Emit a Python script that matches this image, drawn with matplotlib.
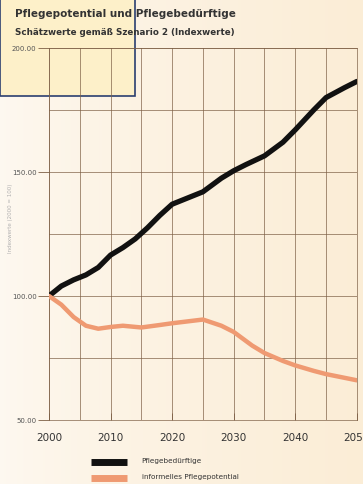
import numpy as np
import matplotlib.pyplot as plt
from matplotlib.patches import Rectangle

# Index values, 2000 = 100
years_need = [2000, 2002, 2004, 2006, 2008, 2010, 2012, 2014, 2016, 2018, 2020,
              2022, 2025, 2028, 2030, 2032, 2035, 2038, 2040, 2043, 2045, 2048, 2050]
pflegebeduerftige = [100, 104, 106.5, 108.5, 111.5, 116.5, 119.5, 123, 127.5, 132.5, 137,
                     139, 142, 147.5, 150.5, 153, 156.5, 162, 167, 175, 180, 184, 186.5]

years_pot = [2000, 2002, 2004, 2006, 2008, 2010, 2012, 2015, 2018, 2020, 2022,
             2025, 2028, 2030, 2033, 2035, 2038, 2040, 2043, 2045, 2048, 2050]
pflegepotential = [100, 96.5, 91.5, 88, 86.8, 87.5, 88, 87.3, 88.3, 89, 89.6,
                   90.5, 88, 85.5, 80, 77, 73.8, 72, 69.8, 68.5, 67, 66]

x_ticks = [2000, 2010, 2020, 2030, 2040, 2050]
y_ticks = [50, 100, 150, 200]
y_labels = ['50.00', '100.00', '150.00', '200.00']

grid_col = '#7d5f45'
text_col = '#333333'

fig = plt.figure(figsize=(3.63, 4.85), dpi=100)

# paper background: whiter on the left, warmer to the right
bg = fig.add_axes([0, 0, 1, 1], zorder=-10)
grad = np.linspace(0, 1, 256)
cols = np.array([[0.995, 0.975, 0.945], [0.985, 0.93, 0.84]])
img = cols[0] + (cols[1] - cols[0]) * grad[None, :, None] ** 0.7
bg.imshow(np.repeat(img, 2, axis=0), aspect='auto', extent=[0, 1, 0, 1])
bg.axis('off')

ax = fig.add_axes([0.135, 0.132, 0.848, 0.767])
ax.set_facecolor('none')

ax.plot(years_need, pflegebeduerftige, color='#111111', lw=3.8,
        solid_capstyle='round', solid_joinstyle='round', zorder=3)
ax.plot(years_pot, pflegepotential, color='#ef9a72', lw=3.2,
        solid_capstyle='round', solid_joinstyle='round', zorder=3)

ax.set_xlim(2000, 2050)
ax.set_ylim(50, 200)
ax.set_xticks(np.arange(2000, 2051, 5), minor=True)
ax.set_xticks(x_ticks)
ax.set_yticks(np.arange(50, 201, 25), minor=True)
ax.set_yticks(y_ticks)
ax.set_yticklabels(y_labels)
ax.grid(True, which='both', color=grid_col, lw=0.6, alpha=0.8)
for s in ax.spines.values():
    s.set_color(grid_col)
    s.set_linewidth(0.6)
    s.set_alpha(0.8)
ax.tick_params(axis='y', which='major', length=8, width=0.6, color=grid_col,
               labelsize=5, labelcolor='#555555', pad=1)
ax.tick_params(axis='y', which='minor', length=0)
ax.tick_params(axis='x', which='major', length=5, width=0.6, color=grid_col,
               direction='in', labelsize=7.5, labelcolor=text_col, pad=9)
ax.tick_params(axis='x', which='minor', length=0)

fig.text(0.03, 0.55, 'Indexwerte (2000 = 100)', rotation=90, fontsize=4,
         color='#b0b0b0', ha='center', va='center')

# note box in the upper left corner
fig.patches.append(Rectangle((0, 0.80), 0.372, 0.2, transform=fig.transFigure,
                             facecolor='#fdf0c9', edgecolor='#2b3f70', lw=1.2,
                             zorder=-5))

fig.text(0.04, 0.972, 'Pflegepotential und Pflegebedürftige', fontsize=7.5,
         fontweight='bold', color=text_col, va='center')
fig.text(0.04, 0.932, 'Schätzwerte gemäß Szenario 2 (Indexwerte)', fontsize=6.3,
         fontweight='bold', color=text_col, va='center')

# legend drawn below the axis
fig.lines.append(plt.Line2D([0.25, 0.35], [0.045, 0.045], transform=fig.transFigure,
                            color='#111111', lw=5, solid_capstyle='butt'))
fig.lines.append(plt.Line2D([0.25, 0.35], [0.012, 0.012], transform=fig.transFigure,
                            color='#ef9a72', lw=5, solid_capstyle='butt'))
fig.text(0.39, 0.05, 'Pflegebedürftige', fontsize=5.2, color=text_col, va='center')
fig.text(0.39, 0.017, 'informelles Pflegepotential', fontsize=5.2, color=text_col,
         va='center')

fig.savefig('out.png', dpi=100)
